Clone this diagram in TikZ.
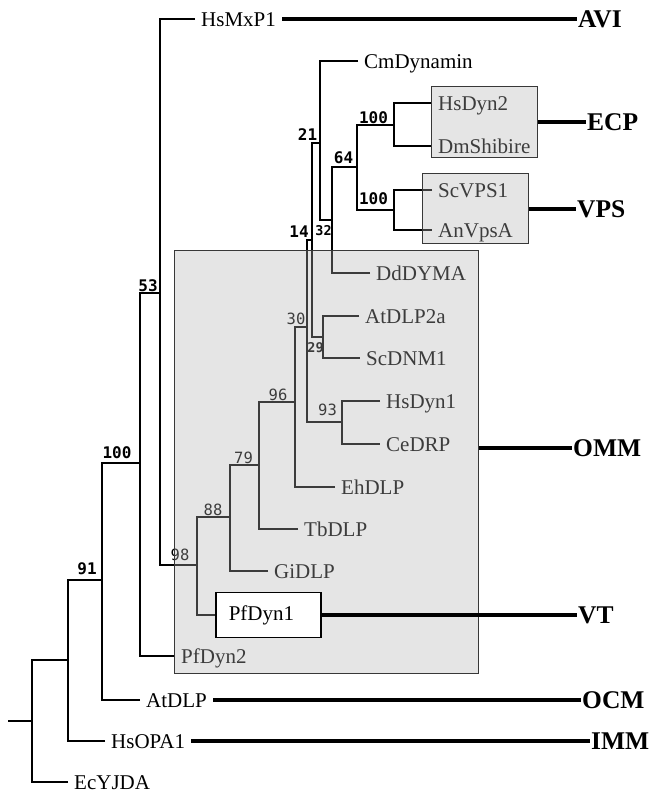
\documentclass[tikz,border=0pt]{standalone}
\usepackage{fontspec}
\setmainfont{Liberation Serif}
\newfontfamily\bsfont{DejaVu Sans Mono}
\begin{document}
\begin{tikzpicture}[x=1pt,y=-1pt,
  branch/.style={line width=2.9pt, draw=black},
  leaf/.style={anchor=west, inner xsep=6pt, inner ysep=0pt, text height=14pt, text depth=0pt, font=\fontsize{21}{21}\selectfont},
  grp/.style={anchor=west, inner xsep=1pt, inner ysep=0pt, font=\fontsize{25.5}{25.5}\selectfont\bfseries},
  bsb/.style={inner sep=0pt, font=\bsfont\bfseries\fontsize{16}{16}\selectfont},
  bsr/.style={inner sep=0pt, font=\bsfont\fontsize{15.5}{15.5}\selectfont},
  bss/.style={inner sep=0pt, font=\bsfont\bfseries\fontsize{13.5}{13.5}\selectfont},
  graybox/.style={anchor=north west, inner sep=0pt, draw=black!78, line width=1.4pt, fill=black!30, fill opacity=0.34},
  heavy/.style={line width=4.6pt, draw=black}
]
\useasboundingbox (0,0) rectangle (648,795);

% internal nodes
\coordinate (Rs) at (8,721);
\coordinate (R) at (32,721);
\coordinate (N1) at (68,660);
\coordinate (N91) at (102,580);
\coordinate (N100) at (140,463);
\coordinate (N53) at (160,293);
\coordinate (N98) at (197,565);
\coordinate (N88) at (230,517);
\coordinate (N79) at (259,465);
\coordinate (N96) at (295,402);
\coordinate (N30) at (307,327);
\coordinate (N14) at (312,240);
\coordinate (N21) at (320,143);
\coordinate (N32) at (332,220);
\coordinate (N64) at (357,167);
\coordinate (NE) at (394,125);
\coordinate (NV) at (394,210);
\coordinate (N29) at (323,337);
\coordinate (N93) at (342,422);

% leaves
\node[leaf] (HsMxP1) at (195,19) {HsMxP1};
\node[leaf] (CmDynamin) at (358,61) {CmDynamin};
\node[leaf] (HsDyn2) at (432,103) {HsDyn2};
\node[leaf] (DmShibire) at (432,146) {DmShibire};
\node[leaf] (ScVPS1) at (432,190) {ScVPS1};
\node[leaf] (AnVpsA) at (432,230) {AnVpsA};
\node[leaf] (DdDYMA) at (370,273) {DdDYMA};
\node[leaf] (AtDLP2a) at (359,316) {AtDLP2a};
\node[leaf] (ScDNM1) at (360,358) {ScDNM1};
\node[leaf] (HsDyn1) at (380,401) {HsDyn1};
\node[leaf] (CeDRP) at (380,444) {CeDRP};
\node[leaf] (EhDLP) at (335,487) {EhDLP};
\node[leaf] (TbDLP) at (298,529) {TbDLP};
\node[leaf] (GiDLP) at (268,571) {GiDLP};
\node[leaf] (PfDyn2) at (175,656) {PfDyn2};
\node[leaf] (AtDLP) at (140,700) {AtDLP};
\node[leaf] (HsOPA1) at (105,741) {HsOPA1};
\node[leaf] (EcYJDA) at (68,782) {EcYJDA};
\coordinate (PfDyn1in) at (215,615);

% branches
\draw[branch] (Rs) -- (R);
\draw[branch] (EcYJDA.west) -| (R) |- (N1);
\draw[branch] (HsOPA1.west) -| (N1) |- (N91);
\draw[branch] (AtDLP.west) -| (N91) |- (N100);
\draw[branch] (PfDyn2.west) -| (N100) |- (N53);
\draw[branch] (HsMxP1.west) -| (N53) |- (N98);
\draw[branch] (PfDyn1in) -| (N98) |- (N88);
\draw[branch] (GiDLP.west) -| (N88) |- (N79);
\draw[branch] (TbDLP.west) -| (N79) |- (N96);
\draw[branch] (EhDLP.west) -| (N96) |- (N30);
\draw[branch] (N93) -| (N30) |- (N14);
\draw[branch] (N29) -| (N14) |- (N21);
\draw[branch] (CmDynamin.west) -| (N21) |- (N32);
\draw[branch] (DdDYMA.west) -| (N32) |- (N64);
\draw[branch] (NV) -| (N64) |- (NE);
\draw[branch] (HsDyn2.west) -| (NE) |- (DmShibire.west);
\draw[branch] (ScVPS1.west) -| (NV) |- (AnVpsA.west);
\draw[branch] (AtDLP2a.west) -| (N29) |- (ScDNM1.west);
\draw[branch] (HsDyn1.west) -| (N93) |- (CeDRP.west);

% bootstrap values
\node[bsb] (b91) at (87,569) {91};
\node[bsb] (b100a) at (117,453) {100};
\node[bsb] (b53) at (148,285.5) {53};
\node[bsr] (b98) at (180,555) {98};
\node[bsr] (b88) at (213,509.5) {88};
\node[bsr] (b79) at (243.5,458) {79};
\node[bsr] (b96) at (278,395) {96};
\node[bsr] (b30) at (296,318.5) {30};
\node[bsr] (b93) at (327.5,410) {93};
\node[bss] (b29) at (315.5,347.5) {29};
\node[bsb] (b14) at (299,232) {14};
\node[bss] (b32) at (323.5,231) {32};
\node[bsb] (b21) at (307.5,134.5) {21};
\node[bsb] (b64) at (343.5,158) {64};
\node[bsb] (b100e) at (373.5,117.5) {100};
\node[bsb] (b100v) at (373.5,199) {100};

% group boxes (translucent overlays)
\node[graybox, minimum width=106pt, minimum height=71pt] (ecpbox) at (431,86) {};
\node[graybox, minimum width=106pt, minimum height=70pt] (vpsbox) at (422,173) {};
\node[graybox, minimum width=304pt, minimum height=423pt] (bigbox) at (174,250) {};

\node[anchor=west, draw=black, line width=1.5pt, fill=white, minimum height=45pt,
      inner xsep=13pt, text width=79pt, font=\fontsize{21}{21}\selectfont] (PfDyn1) at (PfDyn1in) {PfDyn1};

% localisation labels
\node[grp] (AVI) at (577,19) {AVI};
\node[grp] (ECP) at (586,122) {ECP};
\node[grp] (VPS) at (576,209) {VPS};
\node[grp] (OMM) at (572,448) {OMM};
\node[grp] (VT) at (577,615) {VT};
\node[grp] (OCM) at (581,700) {OCM};
\node[grp] (IMM) at (590,741) {IMM};

\draw[heavy] (HsMxP1.east) -- (AVI.west);
\draw[heavy] (ecpbox.east |- ECP.west) -- (ECP.west);
\draw[heavy] (vpsbox.east |- VPS.west) -- (VPS.west);
\draw[heavy] (bigbox.east |- OMM.west) -- (OMM.west);
\draw[heavy] (PfDyn1.east) -- (VT.west);
\draw[heavy] (AtDLP.east) -- (OCM.west);
\draw[heavy] (HsOPA1.east) -- (IMM.west);
\end{tikzpicture}
\end{document}
